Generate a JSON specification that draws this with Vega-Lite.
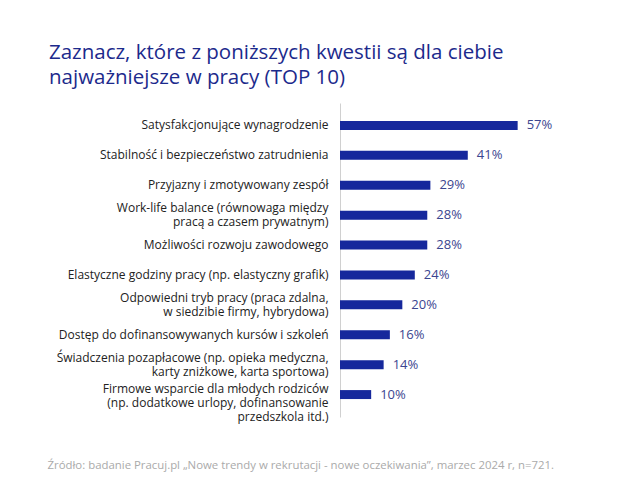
{
  "$schema": "https://vega.github.io/schema/vega-lite/v6.json",
  "autosize": "none",
  "width": 187,
  "height": 314,
  "padding": {"left": 340, "top": 103, "right": 113, "bottom": 87},
  "background": "white",
  "config": {"view": {"stroke": null}, "font": "Open Sans"},
  "title": {
    "text": ["Zaznacz, które z poniższych kwestii są dla ciebie", "najważniejsze w pracy (TOP 10)"],
    "anchor": "start",
    "frame": "group",
    "dx": -291,
    "offset": 15,
    "fontSize": 20.5,
    "fontWeight": "normal",
    "font": "Open Sans",
    "color": "#1c2a8c",
    "lineHeight": 25
  },
  "data": {
    "values": [
      {"cat": "Satysfakcjonujące wynagrodzenie", "value": 57, "pct": "57%"},
      {"cat": "Stabilność i bezpieczeństwo zatrudnienia", "value": 41, "pct": "41%"},
      {"cat": "Przyjazny i zmotywowany zespół", "value": 29, "pct": "29%"},
      {"cat": "Work-life balance (równowaga między|pracą a czasem prywatnym)", "value": 28, "pct": "28%"},
      {"cat": "Możliwości rozwoju zawodowego", "value": 28, "pct": "28%"},
      {"cat": "Elastyczne godziny pracy (np. elastyczny grafik)", "value": 24, "pct": "24%"},
      {"cat": "Odpowiedni tryb pracy (praca zdalna,|w siedzibie firmy, hybrydowa)", "value": 20, "pct": "20%"},
      {"cat": "Dostęp do dofinansowywanych kursów i szkoleń", "value": 16, "pct": "16%"},
      {"cat": "Świadczenia pozapłacowe (np. opieka medyczna,|karty zniżkowe, karta sportowa)", "value": 14, "pct": "14%"},
      {"cat": "Firmowe wsparcie dla młodych rodziców|(np. dodatkowe urlopy, dofinansowanie |przedszkola itd.)", "value": 10, "pct": "10%"}
    ]
  },
  "encoding": {
    "y": {
      "field": "cat",
      "type": "nominal",
      "sort": null,
      "scale": {"paddingInner": 0.7, "paddingOuter": 0.6},
      "axis": {
        "title": null,
        "ticks": false,
        "domain": true,
        "domainColor": "#d0d0d0",
        "domainWidth": 1,
        "labelPadding": 12,
        "labelFontSize": 12,
        "labelFont": "Open Sans",
        "labelColor": "#222222",
        "labelLimit": 0,
        "labelLineHeight": 14,
        "labelExpr": "split(datum.value, '|')",
        "labelOffset": {
          "condition": [
            {"test": "length(split(datum.value, '|')) == 2", "value": -7},
            {"test": "length(split(datum.value, '|')) == 3", "value": -6}
          ],
          "value": 0
        }
      }
    },
    "x": {
      "field": "value",
      "type": "quantitative",
      "scale": {"domain": [0, 60], "nice": false},
      "axis": {
        "title": "Źródło: badanie Pracuj.pl „Nowe trendy w rekrutacji - nowe oczekiwania”, marzec 2024 r, n=721.",
        "titleX": -293,
        "titleY": 51,
        "titleAlign": "left",
        "titleAnchor": null,
        "titleBaseline": "alphabetic",
        "titleFontSize": 11.4,
        "titleFontWeight": "normal",
        "titleFont": "Open Sans",
        "titleColor": "#aaaaaa",
        "labels": false,
        "ticks": false,
        "domain": false,
        "grid": false
      }
    }
  },
  "layer": [
    {"mark": {"type": "bar", "color": "#16289c"}},
    {
      "mark": {"type": "text", "align": "left", "baseline": "middle", "dx": 9, "fontSize": 13, "font": "Open Sans", "color": "#3b4590"},
      "encoding": {"text": {"field": "pct"}}
    }
  ]
}
